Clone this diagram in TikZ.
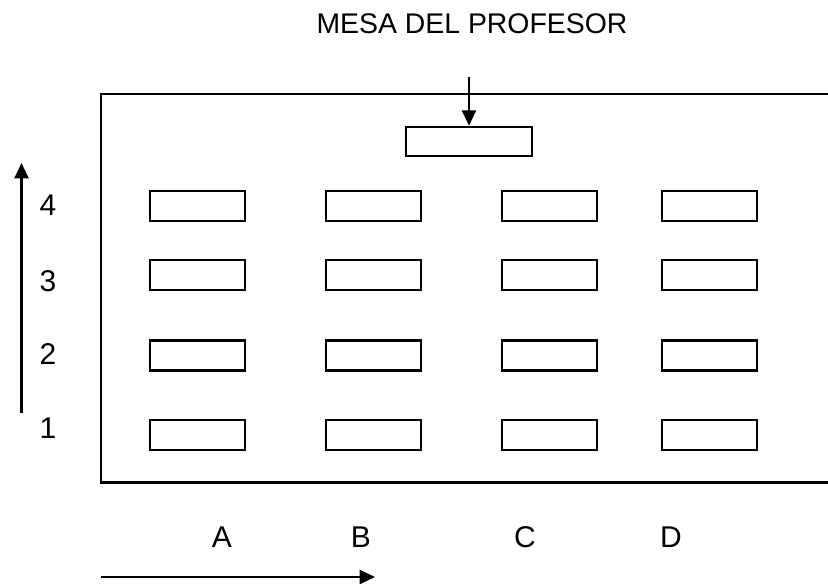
\documentclass[tikz,border=0pt]{standalone}
\usepackage{fontspec}
\setmainfont{Liberation Sans}
\usetikzlibrary{arrows.meta}

\begin{document}
\begin{tikzpicture}[x=0.75pt,y=-0.75pt,line width=1.6pt,
  pupitre/.style={draw,minimum width=71.25pt,minimum height=22.5pt,inner sep=0pt},
  flecha/.style={-{Triangle[length=11.5pt,width=10.5pt]}},
  rotulo/.style={font=\fontsize{22.5}{27}\selectfont}]
\useasboundingbox (0,0) rectangle (828,584);
\node[font=\fontsize{21.3}{25}\selectfont] (titulo) at (472,24) {MESA DEL PROFESOR};
% aula
\draw (828,94) -- (101,94) -- (101,482.5) -- (828,482.5);
\node[draw,minimum width=94.5pt,minimum height=22pt,inner sep=0pt] (profesor) at (469,141.5) {};
\coordinate (p0) at (469,77);
\draw[flecha] (p0) -- (profesor.north);
% pupitres
\foreach \x/\c in {197.5/A,373.5/B,549.5/C,709.5/D}
  \foreach \y/\f in {206/4,275/3,355.5/2,435/1}
    \node[pupitre] (mesa-\c\f) at (\x,\y) {};
% filas
\foreach \y/\f in {205/4,281/3,354/2,428/1}
  \node[rotulo] (fila-\f) at (48,\y) {\f};
\coordinate (v0) at (21.5,413);
\coordinate (v1) at (21.5,163);
\draw[flecha] (v0) -- (v1);
% columnas
\foreach \x/\c in {222/A,361/B,525/C,671/D}
  \node[rotulo] (col-\c) at (\x,537) {\c};
\coordinate (h0) at (101,577);
\coordinate (h1) at (375,577);
\draw[flecha] (h0) -- (h1);
\end{tikzpicture}
\end{document}
